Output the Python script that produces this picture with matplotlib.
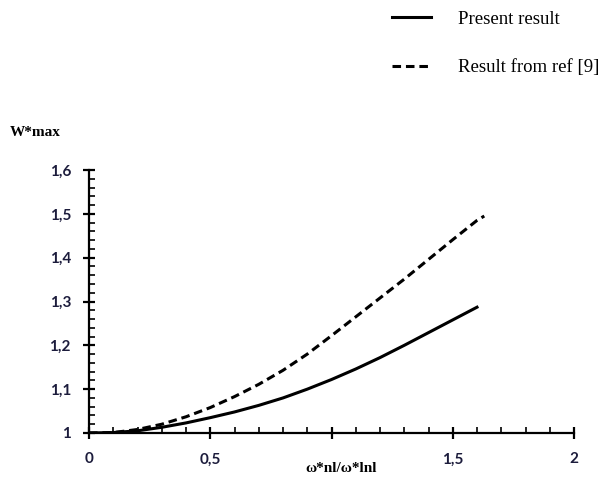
import numpy as np
import matplotlib
matplotlib.use("Agg")
import matplotlib.pyplot as plt
from matplotlib.ticker import MultipleLocator

# present result (solid)
x_present = [0, 0.1, 0.2, 0.3, 0.4, 0.5, 0.6, 0.7, 0.8, 0.9, 1.0, 1.1, 1.2, 1.3, 1.4, 1.5, 1.6]
w_present = [1.0, 1.001, 1.005, 1.013, 1.023, 1.035, 1.048, 1.063, 1.08, 1.1, 1.122, 1.146, 1.172, 1.2, 1.229, 1.258, 1.287]

# result from ref [9] (dashed)
x_ref = [0, 0.1, 0.2, 0.3, 0.4, 0.5, 0.6, 0.7, 0.8, 0.9, 1.0, 1.1, 1.2, 1.3, 1.4, 1.5, 1.6, 1.63]
w_ref = [1.0, 1.001, 1.008, 1.02, 1.037, 1.058, 1.083, 1.111, 1.143, 1.18, 1.222, 1.265, 1.308, 1.351, 1.396, 1.441, 1.485, 1.495]

xticks = [0, 0.5, 1, 1.5, 2]
xtick_labels = ['0', '0,5', '', '1,5', '2']
yticks = [1, 1.1, 1.2, 1.3, 1.4, 1.5, 1.6]
ytick_labels = ['1', '1,1', '1,2', '1,3', '1,4', '1,5', '1,6']

fig = plt.figure(figsize=(6.06, 4.79), dpi=100)
ax = fig.add_axes([89/606, 46/479, 485/606, 263/479])

ax.plot(x_present, w_present, color='black', lw=2.2, label='Present result')
ax.plot(x_ref, w_ref, color='black', lw=2.2, dashes=(2.8, 1.6), label='Result from ref [9]')

ax.set_xlim(0, 2)
ax.set_ylim(1, 1.6)
for s in ['top', 'right']:
    ax.spines[s].set_visible(False)
for s in ['left', 'bottom']:
    ax.spines[s].set_linewidth(1.6)

ax.set_xticks(xticks)
ax.set_xticklabels(xtick_labels)
ax.set_yticks(yticks)
ax.set_yticklabels(ytick_labels)
ax.xaxis.set_minor_locator(MultipleLocator(0.1))
ax.yaxis.set_minor_locator(MultipleLocator(0.02))

lab_col = '#1c1c3c'
ax.tick_params(which='major', direction='inout', length=8, width=1.6,
               labelsize=11, labelcolor=lab_col)
ax.tick_params(axis='x', which='major', pad=10)
ax.tick_params(axis='y', which='major', pad=9)
ax.tick_params(which='minor', direction='in', length=4, width=1.2)
for t in ax.get_xticklabels() + ax.get_yticklabels():
    t.set_fontfamily('Lato')
    t.set_fontweight('bold')

fig.text(341/606, 1 - 468/479, 'ω*nl/ω*lnl', ha='center', va='center',
         family='Liberation Serif', fontweight='bold', fontsize=11)
fig.text(10/606, 1 - 132/479, 'W*max', ha='left', va='center',
         family='Liberation Serif', fontweight='bold', fontsize=11)

ax.legend(loc='upper left', bbox_to_anchor=(375/606, 1 + 6/479),
          bbox_transform=fig.transFigure, frameon=False,
          prop={'family': 'Liberation Serif', 'size': 13.5},
          handlelength=2.1, handletextpad=1.4, labelspacing=1.65)

fig.savefig('out.png', dpi=100)
